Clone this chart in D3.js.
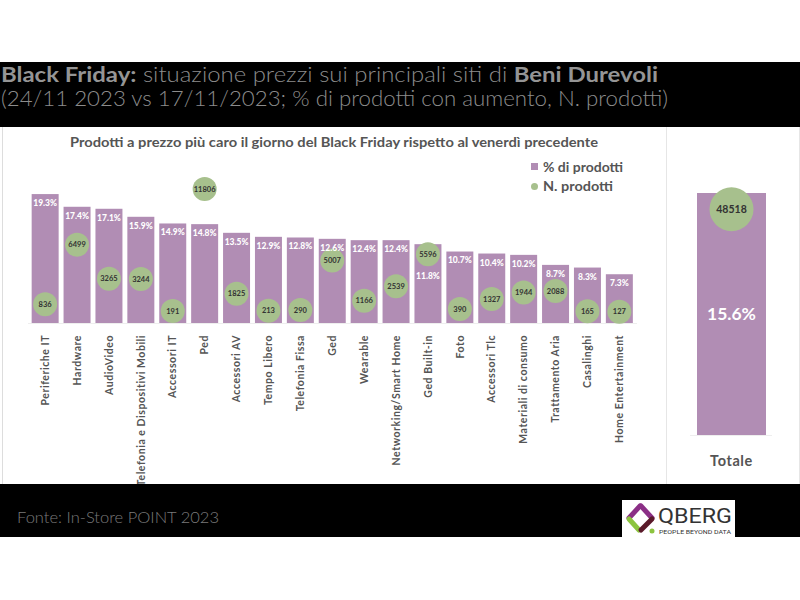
<!DOCTYPE html>
<html>
<head>
<meta charset="utf-8">
<script src="https://cdn.jsdelivr.net/npm/d3@7/dist/d3.min.js"></script>
<style>
  html, body { margin: 0; padding: 0; background: #fff; }
  svg { display: block; font-family: Lato, "Open Sans", sans-serif; }
</style>
</head>
<body>
<svg id="chart" width="800" height="600"></svg>
<script>
// ---- Data ----
const categories = [
  "Periferiche IT", "Hardware", "AudioVideo", "Telefonia e Dispositivi Mobili",
  "Accessori IT", "Ped", "Accessori AV", "Tempo Libero", "Telefonia Fissa", "Ged",
  "Wearable", "Networking/Smart Home", "Ged Built-in", "Foto", "Accessori Tlc",
  "Materiali di consumo", "Trattamento Aria", "Casalinghi", "Home Entertainment"
];
const pctValues = [19.3, 17.4, 17.1, 15.9, 14.9, 14.8, 13.5, 12.9, 12.8, 12.6,
                   12.4, 12.4, 11.8, 10.7, 10.4, 10.2, 8.7, 8.3, 7.3];
const nValues = [836, 6499, 3265, 3244, 191, 11806, 1825, 213, 290, 5007,
                 1166, 2539, 5596, 390, 1327, 1944, 2088, 165, 127];
const totalCategory = ["Totale"];
const totalPct = [15.6];
const totalN = [48518];
const legendLabels = ["% di prodotti", "N. prodotti"];

const titleBold1 = "Black Friday:";
const titleLight1 = " situazione prezzi sui principali siti di ";
const titleBold2 = "Beni Durevoli";
const titleLine2 = "(24/11 2023 vs 17/11/2023; % di prodotti con aumento, N. prodotti)";
const chartSubtitle = "Prodotti a prezzo più caro il giorno del Black Friday rispetto al venerdì precedente";
const sourceText = "Fonte: In-Store POINT 2023";

// ---- Styles ----
const barColor = "#b18db4";
const bubbleColor = "#a7c08d";
const textGray = "#555";

const svg = d3.select("#chart");

// Header band
svg.append("rect").attr("x", 0).attr("y", 62).attr("width", 800).attr("height", 65).attr("fill", "#000");
const t1 = svg.append("text").attr("x", 1).attr("y", 82).attr("font-size", 21)
  .attr("fill", "#8c8c8c").attr("textLength", 657).attr("lengthAdjust", "spacingAndGlyphs");
t1.append("tspan").attr("font-weight", 700).attr("fill", "#959595").text(titleBold1);
t1.append("tspan").attr("font-weight", 300).text(titleLight1);
t1.append("tspan").attr("font-weight", 700).attr("fill", "#959595").text(titleBold2);
svg.append("text").attr("x", 1).attr("y", 106).attr("font-size", 21).attr("font-weight", 300)
  .attr("fill", "#8c8c8c").attr("textLength", 667).attr("lengthAdjust", "spacingAndGlyphs")
  .text(titleLine2);

// Panel
const panel = svg.append("g");
panel.append("rect").attr("x", 2).attr("y", 127).attr("width", 797).attr("height", 357).attr("fill", "#fff");
panel.append("line").attr("x1", 2.5).attr("x2", 2.5).attr("y1", 127).attr("y2", 484).attr("stroke", "#ddd");
panel.append("line").attr("x1", 666.5).attr("x2", 666.5).attr("y1", 127).attr("y2", 484).attr("stroke", "#e6e6e6");
panel.append("line").attr("x1", 799.5).attr("x2", 799.5).attr("y1", 127).attr("y2", 484).attr("stroke", "#e6e6e6");

// Chart subtitle
svg.append("text").attr("x", 70).attr("y", 146.5)
  .attr("font-size", 12.5).attr("font-weight", 700).attr("fill", textGray)
  .attr("textLength", 528).attr("lengthAdjust", "spacingAndGlyphs").text(chartSubtitle);

// Legend
svg.append("rect").attr("x", 531).attr("y", 163).attr("width", 7).attr("height", 7).attr("fill", barColor);
svg.append("text").attr("x", 543).attr("y", 171.5).attr("font-size", 12.5).attr("font-weight", 700)
  .attr("fill", textGray).attr("textLength", 80).attr("lengthAdjust", "spacingAndGlyphs").text(legendLabels[0]);
svg.append("circle").attr("cx", 534.5).attr("cy", 186.5).attr("r", 3.5).attr("fill", bubbleColor);
svg.append("text").attr("x", 543).attr("y", 191).attr("font-size", 12.5).attr("font-weight", 700)
  .attr("fill", textGray).attr("textLength", 70).attr("lengthAdjust", "spacingAndGlyphs").text(legendLabels[1]);

// ---- Main chart scales ----
const x = d3.scaleBand().domain(categories).range([29.2, 635.3]).paddingInner(0.154).paddingOuter(0.077);
const yPct = d3.scaleLinear().domain([0, 20]).range([323, 189.4]);
const yN = d3.scaleLinear().domain([0, 12000]).range([313, 187]);
const r = 12;

const main = svg.append("g");
const rows = categories.map((c, i) => ({ c, pct: pctValues[i], n: nValues[i] }));

main.append("line").attr("x1", 28).attr("x2", 637).attr("y1", yPct(0) + 0.5).attr("y2", yPct(0) + 0.5)
  .attr("stroke", "#eee");

main.selectAll("rect.bar").data(rows).join("rect").attr("class", "bar")
  .attr("x", d => x(d.c)).attr("width", x.bandwidth())
  .attr("y", d => yPct(d.pct)).attr("height", d => yPct(0) - yPct(d.pct))
  .attr("fill", barColor);

main.selectAll("circle.bub").data(rows).join("circle").attr("class", "bub")
  .attr("cx", d => x(d.c) + x.bandwidth() / 2).attr("cy", d => yN(d.n)).attr("r", r)
  .attr("fill", bubbleColor);

main.selectAll("text.bubl").data(rows).join("text").attr("class", "bubl")
  .attr("x", d => x(d.c) + x.bandwidth() / 2).attr("y", d => yN(d.n)).attr("dy", "0.35em")
  .attr("text-anchor", "middle").attr("font-size", 7.5).attr("font-weight", 700).attr("fill", "#333")
  .text(d => d.n);

function labelY(d) {
  const base = yPct(d.pct) + 9;
  const by = yN(d.n);
  if (Math.abs(by - base) < 10) return by + r + 10;
  return base;
}
main.selectAll("text.pct").data(rows).join("text").attr("class", "pct")
  .attr("x", d => x(d.c) + x.bandwidth() / 2).attr("y", d => labelY(d)).attr("dy", "0.35em")
  .attr("text-anchor", "middle").attr("font-size", 8.5).attr("font-weight", 900).attr("fill", "#fff")
  .text(d => d.pct.toFixed(1) + "%");

const xAxis = main.append("g").attr("transform", `translate(0,${yPct(0)})`)
  .call(d3.axisBottom(x).tickSize(0));
xAxis.select(".domain").remove();
xAxis.selectAll("text")
  .attr("transform", "rotate(-90)")
  .attr("x", -12).attr("y", 0).attr("dy", "0.35em")
  .attr("text-anchor", "end")
  .attr("font-family", "Lato, sans-serif")
  .attr("letter-spacing", 0.55)
  .attr("font-size", 10.5).attr("font-weight", 700).attr("fill", textGray);

// ---- Totale panel ----
const xT = d3.scaleBand().domain(totalCategory).range([697, 766]);
const yT = d3.scaleLinear().domain([0, totalPct[0]]).range([435, 193]);
const yTN = d3.scaleLinear().domain([0, 52000]).range([435, 193]);
const tot = svg.append("g");
const trows = totalCategory.map((c, i) => ({ c, pct: totalPct[i], n: totalN[i] }));
tot.append("line").attr("x1", 690).attr("x2", 772).attr("y1", 435.5).attr("y2", 435.5).attr("stroke", "#eee");
tot.selectAll("rect").data(trows).join("rect")
  .attr("x", d => xT(d.c)).attr("width", xT.bandwidth())
  .attr("y", d => yT(d.pct)).attr("height", d => yT(0) - yT(d.pct)).attr("fill", barColor);
tot.selectAll("circle").data(trows).join("circle")
  .attr("cx", d => xT(d.c) + xT.bandwidth() / 2).attr("cy", d => yTN(d.n)).attr("r", 22)
  .attr("fill", bubbleColor);
tot.selectAll("text.tn").data(trows).join("text").attr("class", "tn")
  .attr("x", d => xT(d.c) + xT.bandwidth() / 2).attr("y", d => yTN(d.n)).attr("dy", "0.35em")
  .attr("text-anchor", "middle").attr("font-size", 10.5).attr("font-weight", 700).attr("fill", "#333")
  .text(d => d.n);
tot.selectAll("text.tp").data(trows).join("text").attr("class", "tp")
  .attr("x", d => xT(d.c) + xT.bandwidth() / 2).attr("y", d => yT(d.pct / 2)).attr("dy", "0.35em")
  .attr("text-anchor", "middle").attr("font-size", 17.5).attr("font-weight", 700).attr("fill", "#fff")
  .text(d => d.pct.toFixed(1) + "%");
const tAxis = tot.append("g").attr("transform", `translate(0,${yT(0)})`)
  .call(d3.axisBottom(xT).tickSize(0));
tAxis.select(".domain").remove();
tAxis.selectAll("text").attr("y", 26).attr("dy", "0.35em")
  .attr("font-family", "Lato, sans-serif").attr("letter-spacing", 0.6)
  .attr("font-size", 14.5).attr("font-weight", 700).attr("fill", textGray);

// ---- Footer ----
svg.append("rect").attr("x", 0).attr("y", 484).attr("width", 800).attr("height", 53).attr("fill", "#000");
svg.append("text").attr("x", 17).attr("y", 523).attr("font-size", 15).attr("font-weight", 300)
  .attr("fill", "#7a7a7a").attr("textLength", 202).attr("lengthAdjust", "spacingAndGlyphs").text(sourceText);

// Logo
const logo = svg.append("g");
logo.append("rect").attr("x", 622).attr("y", 500).attr("width", 113).attr("height", 37).attr("fill", "#fff");
const seg = (x1, y1, x2, y2, c) => logo.append("line").attr("x1", x1).attr("y1", y1).attr("x2", x2).attr("y2", y2)
  .attr("stroke", c).attr("stroke-width", 5).attr("stroke-linecap", "round");
seg(629, 518, 640, 506, "#8b2f86");
seg(641, 506, 652, 518, "#8b2f86");
seg(629, 519, 639, 530, "#8cc43f");
seg(652, 519, 641, 530, "#5a1a2a");
logo.append("circle").attr("cx", 652).attr("cy", 531).attr("r", 2.5).attr("fill", "#8cc43f");
logo.append("text").attr("x", 658).attr("y", 523).attr("font-family", "'Liberation Sans Narrow', 'Roboto', sans-serif")
  .attr("font-size", 20).attr("fill", "#333").attr("textLength", 74).attr("lengthAdjust", "spacingAndGlyphs").text("QBERG");
logo.append("text").attr("x", 659).attr("y", 533.5).attr("font-family", "Roboto, sans-serif")
  .attr("font-size", 4.6).attr("fill", "#333").attr("textLength", 72).attr("lengthAdjust", "spacingAndGlyphs")
  .text("PEOPLE BEYOND DATA");
</script>
</body>
</html>
